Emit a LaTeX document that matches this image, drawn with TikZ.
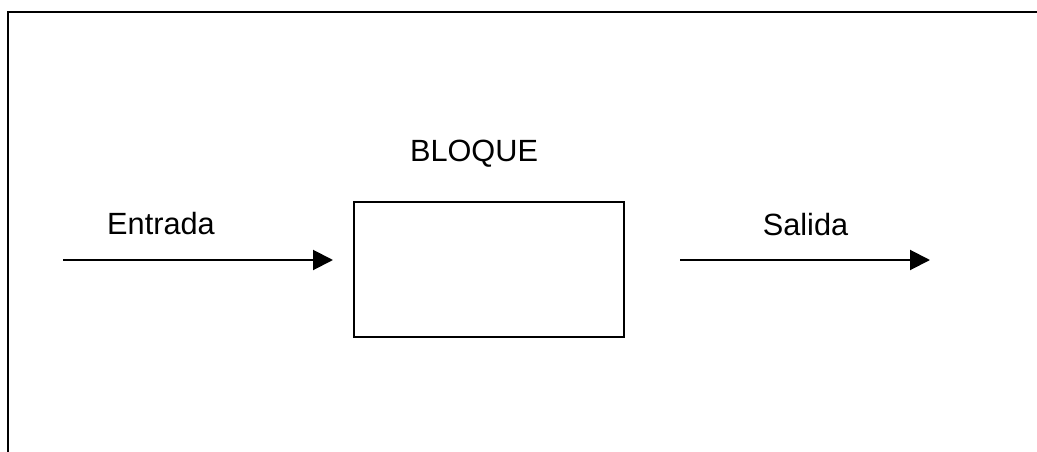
\documentclass[tikz,border=0pt]{standalone}
\usepackage{fontspec}
\setmainfont{Liberation Sans}
\usetikzlibrary{arrows.meta}
\begin{document}
\begin{tikzpicture}[x=1pt,y=-1pt,
  frameline/.style={line width=2pt},
  blockbox/.style={draw,line width=2pt,minimum width=270pt,minimum height=135pt,inner sep=0pt},
  flow/.style={line width=2pt,-{Triangle[length=20pt,width=20pt]}},
  label/.style={font=\fontsize{30.7}{36}\selectfont,inner sep=0pt,anchor=base}
]
  \useasboundingbox (0,0) rectangle (1037,452);
  % page frame, open at the right and bottom
  \draw[frameline] (1037,12.5) -- (7.5,12.5) -- (7.5,452);
  % the block
  \node[blockbox] (blk) at (489,269.5) {};
  \node[label] (blkname) at (474,161) {BLOQUE};
  % input
  \coordinate (inA) at (63,260);
  \coordinate (inB) at (333,260);
  \draw[flow] (inA) -- (inB);
  \node[label] (inname) at (161,234) {Entrada};
  % output
  \coordinate (outA) at (680,260);
  \coordinate (outB) at (930,260);
  \draw[flow] (outA) -- (outB);
  \node[label] (outname) at (805.5,235) {Salida};
\end{tikzpicture}
\end{document}
